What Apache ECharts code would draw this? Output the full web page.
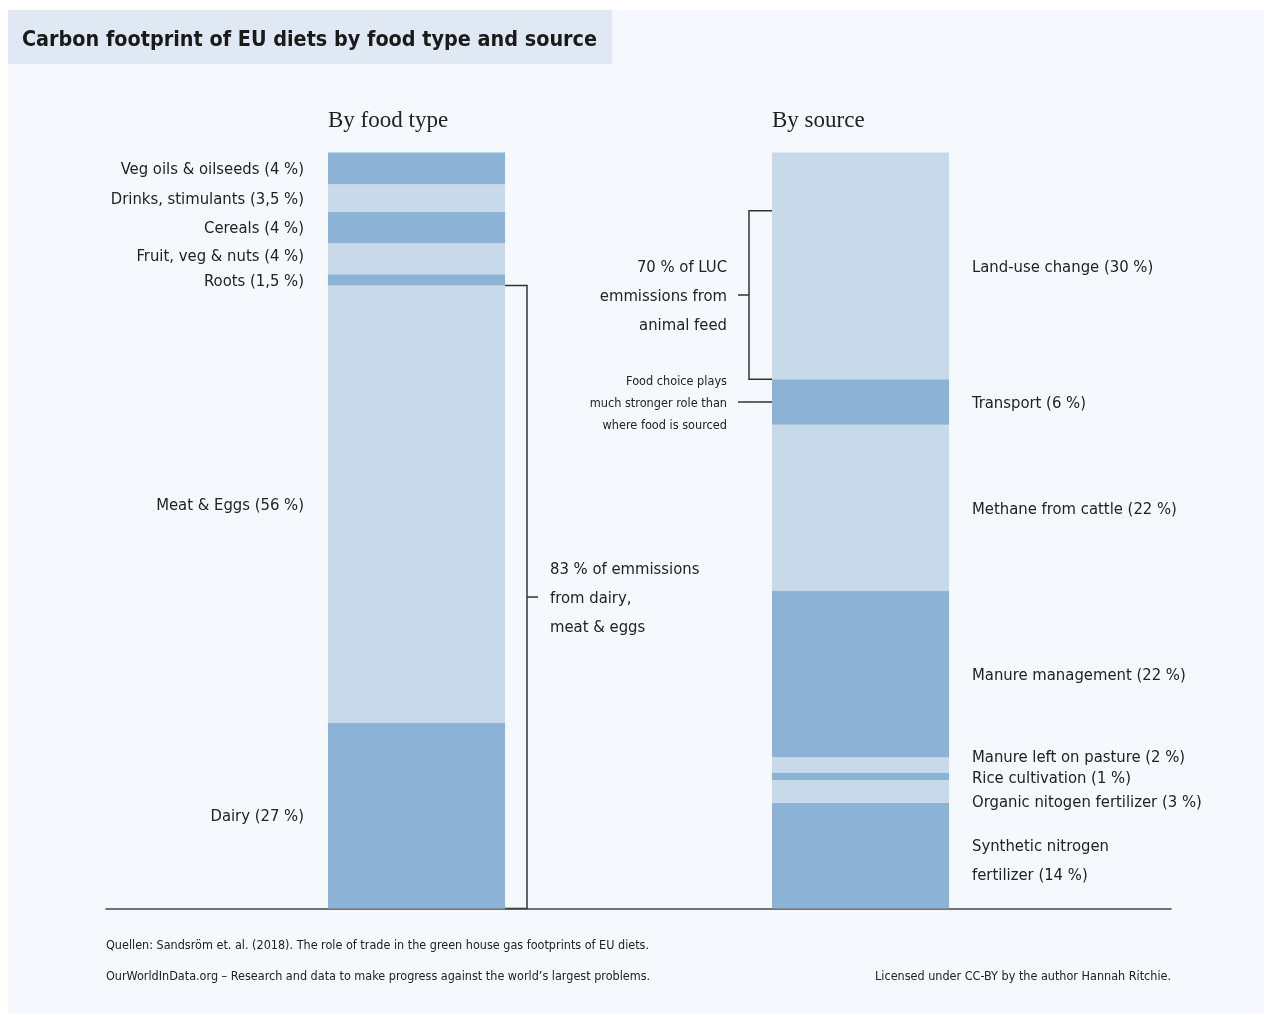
<!DOCTYPE html>
<html>
<head>
<meta charset="utf-8">
<title>Carbon footprint of EU diets</title>
<script src="https://cdn.jsdelivr.net/npm/echarts@6/dist/echarts.min.js"></script>
<style>
  html, body { margin: 0; padding: 0; background: #ffffff; }
  #main { width: 1266px; height: 1015px; }
</style>
</head>
<body>
<div id="main"></div>
<script>
// stacked bottom -> top
var foodTypes = ['Dairy', 'Meat & Eggs', 'Roots', 'Fruit, veg & nuts', 'Cereals', 'Drinks, stimulants', 'Veg oils & oilseeds'];
var foodLabels = ['Dairy (27 %)', 'Meat & Eggs (56 %)', 'Roots (1,5 %)', 'Fruit, veg & nuts (4 %)', 'Cereals (4 %)', 'Drinks, stimulants (3,5 %)', 'Veg oils & oilseeds (4 %)'];
var foodShares = [24.6, 57.8, 1.5, 4.1, 4.2, 3.6, 4.2];

var sources = ['Synthetic nitrogen fertilizer', 'Organic nitogen fertilizer', 'Rice cultivation', 'Manure left on pasture', 'Manure management', 'Methane from cattle', 'Transport', 'Land-use change'];
var sourceLabels = ['Synthetic nitrogen\nfertilizer (14 %)', 'Organic nitogen fertilizer (3 %)', 'Rice cultivation (1 %)', 'Manure left on pasture (2 %)', 'Manure management (22 %)', 'Methane from cattle (22 %)', 'Transport (6 %)', 'Land-use change (30 %)'];
var sourceShares = [14, 3, 1, 2, 22, 22, 6, 30];

var DARK = '#8cb3d5', LIGHT = '#c8d9e9';
var TXT = '#222222';
var NARROW = "'DejaVu Sans Condensed', 'Liberation Sans Narrow', sans-serif";
var SERIF = "'Liberation Serif', 'DejaVu Serif', serif";
var BAR_W = 177;
var LABEL_SIZE = 16.5;

// small label nudges so the thin segments don't overlap
var foodOffsets = { 3: [0, -2] };
var sourceOffsets = { 0: [0, 6], 1: [0, 11], 2: [0, 3], 3: [0, -7] };

var myChart = echarts.init(document.getElementById('main'));

var series = [];
foodTypes.forEach(function (name, i) {
    series.push({
        name: name,
        type: 'bar',
        stack: 'food',
        xAxisIndex: 0,
        yAxisIndex: 0,
        barWidth: BAR_W,
        silent: true,
        itemStyle: { color: i % 2 === 0 ? DARK : LIGHT },
        label: {
            show: true,
            position: 'left',
            distance: 24,
            offset: foodOffsets[i] || [0, 1.5],
            formatter: foodLabels[i],
            fontFamily: NARROW,
            fontSize: LABEL_SIZE,
            color: TXT
        },
        data: [foodShares[i]]
    });
});
sources.forEach(function (name, i) {
    series.push({
        name: name,
        type: 'bar',
        stack: 'source',
        xAxisIndex: 1,
        yAxisIndex: 1,
        barWidth: BAR_W,
        silent: true,
        itemStyle: { color: i % 2 === 0 ? DARK : LIGHT },
        label: {
            show: true,
            position: 'right',
            distance: 23,
            offset: sourceOffsets[i] || [0, 2],
            formatter: sourceLabels[i],
            fontFamily: NARROW,
            fontSize: LABEL_SIZE,
            lineHeight: 29,
            align: 'left',
            color: TXT
        },
        data: [sourceShares[i]]
    });
});

var option = {
    backgroundColor: '#ffffff',
    animation: false,
    title: [
        {
            text: 'Carbon footprint of EU diets by food type and source',
            left: 17, top: 25,
            textStyle: { fontFamily: NARROW, fontWeight: 'bold', fontSize: 21.4, color: '#1a1a1a' }
        },
        {
            text: 'By food type', left: 323, top: 104,
            textStyle: { fontFamily: SERIF, fontWeight: 'normal', fontSize: 23, color: TXT }
        },
        {
            text: 'By source', left: 767, top: 104,
            textStyle: { fontFamily: SERIF, fontWeight: 'normal', fontSize: 23, color: TXT }
        }
    ],
    grid: [
        { left: 328, width: BAR_W, top: 152.5, bottom: 106.5 },
        { left: 772, width: BAR_W, top: 152.5, bottom: 106.5 },
        { left: 106, right: 95, top: 152.5, bottom: 106.5 }
    ],
    xAxis: [
        { type: 'category', gridIndex: 0, data: ['By food type'], show: false },
        { type: 'category', gridIndex: 1, data: ['By source'], show: false },
        {
            type: 'category', gridIndex: 2, data: [''],
            axisLine: { show: true, lineStyle: { color: '#444', width: 1.5 } },
            axisTick: { show: false }, axisLabel: { show: false }
        }
    ],
    yAxis: [
        { type: 'value', gridIndex: 0, min: 0, max: 100, show: false },
        { type: 'value', gridIndex: 1, min: 0, max: 100, show: false },
        { type: 'value', gridIndex: 2, min: 0, max: 100, show: false }
    ],
    series: series
};

myChart.setOption(option);

// brackets and notes, placed through the axes
function yPix(gi, v) {
    return myChart.convertToPixel({ xAxisIndex: gi, yAxisIndex: gi }, [0, v])[1];
}
function xPix(gi) {
    return myChart.convertToPixel({ xAxisIndex: gi, yAxisIndex: gi }, [0, 0])[0];
}
var sum = function (arr, n) { var s = 0; for (var k = 0; k < n; k++) s += arr[k]; return s; };

var lRight = xPix(0) + BAR_W / 2;
var lTop = yPix(0, sum(foodShares, 2)), lBot = yPix(0, 0), lMid = (lTop + lBot) / 2;
var rLeft = xPix(1) - BAR_W / 2;
var lucTop = yPix(1, 92.3), lucBot = yPix(1, sum(sourceShares, 7)), lucMid = (lucTop + lucBot) / 2;
var trMid = yPix(1, sum(sourceShares, 6) + sourceShares[6] / 2);
var line = { stroke: '#333', lineWidth: 1.5, fill: null };

myChart.setOption({
    graphic: [
        { type: 'rect', z: -10, shape: { x: 8, y: 10, width: 1256, height: 1003 }, style: { fill: '#f5f8fc' } },
        { type: 'rect', z: -9, shape: { x: 8, y: 10, width: 604, height: 54 }, style: { fill: '#e0e8f3' } },
        { type: 'polyline', shape: { points: [[lRight, lTop], [lRight + 22, lTop], [lRight + 22, lBot], [lRight, lBot]] }, style: line },
        { type: 'line', shape: { x1: lRight + 22, y1: lMid, x2: lRight + 33, y2: lMid }, style: line },
        {
            type: 'text', x: lRight + 45, y: lMid + 2,
            style: { text: '83 % of emmissions\nfrom dairy,\nmeat & eggs', fontFamily: NARROW, fontSize: LABEL_SIZE, lineHeight: 29, fill: TXT, align: 'left', verticalAlign: 'middle' }
        },
        { type: 'polyline', shape: { points: [[rLeft, lucTop], [rLeft - 23, lucTop], [rLeft - 23, lucBot], [rLeft, lucBot]] }, style: line },
        { type: 'line', shape: { x1: rLeft - 23, y1: lucMid, x2: rLeft - 34, y2: lucMid }, style: line },
        {
            type: 'text', x: rLeft - 45, y: lucMid + 2,
            style: { text: '70 % of LUC\nemmissions from\nanimal feed', fontFamily: NARROW, fontSize: LABEL_SIZE, lineHeight: 29, fill: TXT, align: 'right', verticalAlign: 'middle' }
        },
        { type: 'line', shape: { x1: rLeft - 34, y1: trMid, x2: rLeft, y2: trMid }, style: line },
        {
            type: 'text', x: rLeft - 45, y: trMid + 1.5,
            style: { text: 'Food choice plays\nmuch stronger role than\nwhere food is sourced', fontFamily: NARROW, fontSize: 12.6, lineHeight: 22, fill: TXT, align: 'right', verticalAlign: 'middle' }
        },
        {
            type: 'text', x: 106, y: 945.5,
            style: { text: 'Quellen: Sandsröm et. al. (2018). The role of trade in the green house gas footprints of EU diets.', fontFamily: NARROW, fontSize: 12.5, fill: TXT, verticalAlign: 'middle' }
        },
        {
            type: 'text', x: 106, y: 976.5,
            style: { text: 'OurWorldInData.org – Research and data to make progress against the world’s largest problems.', fontFamily: NARROW, fontSize: 12.5, fill: TXT, verticalAlign: 'middle' }
        },
        {
            type: 'text', x: 1171, y: 976.5,
            style: { text: 'Licensed under CC-BY by the author Hannah Ritchie.', fontFamily: NARROW, fontSize: 12.5, fill: TXT, align: 'right', verticalAlign: 'middle' }
        }
    ]
});
</script>
</body>
</html>
